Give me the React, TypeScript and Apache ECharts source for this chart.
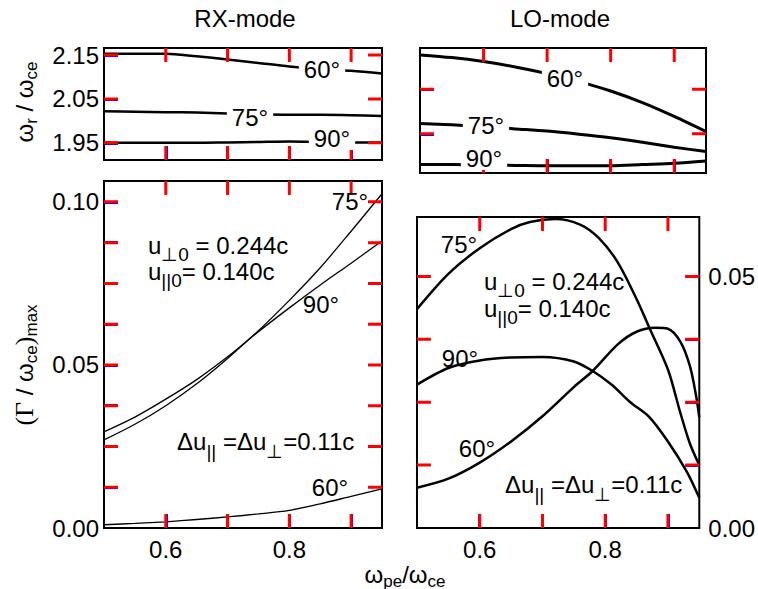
import { useEffect, useRef } from "react";
import * as echarts from "echarts";

const X_MIN = 0.5;
const X_MAX = 0.95;
const xTickValues = [0.6, 0.7, 0.8, 0.9];
const xLabelValues = [0.6, 0.8];

// RX-mode real frequency ωr/ωce
const rxFreqX = [0.5, 0.55, 0.6, 0.65, 0.7, 0.75, 0.8, 0.85, 0.9, 0.95];
const rxFreq60 = [2.153, 2.153, 2.153, 2.147, 2.14, 2.132, 2.124, 2.118, 2.114, 2.108];
const rxFreq75 = [2.022, 2.021, 2.02, 2.019, 2.017, 2.015, 2.014, 2.014, 2.013, 2.011];
const rxFreq90 = [1.951, 1.95, 1.95, 1.95, 1.951, 1.952, 1.953, 1.952, 1.951, 1.951];
const rxFreqTicks = [1.95, 2.05, 2.15];

// LO-mode real frequency (no scale printed)
const loFreqX = [0.5, 0.55, 0.6, 0.65, 0.7, 0.75, 0.8, 0.85, 0.9, 0.95];
const loFreq60 = [1.177, 1.171, 1.162, 1.15, 1.135, 1.117, 1.096, 1.07, 1.039, 1.005];
const loFreq75 = [1.023, 1.02, 1.016, 1.011, 1.006, 0.999, 0.991, 0.981, 0.97, 0.96];
const loFreq90 = [0.931, 0.931, 0.93, 0.929, 0.928, 0.928, 0.928, 0.931, 0.934, 0.939];
const loFreqTicks = [1.0, 1.1];

// RX-mode maximum growth rate
const rxGrowthX = [0.5, 0.55, 0.6, 0.65, 0.7, 0.75, 0.8, 0.85, 0.9, 0.95];
const rxGrowth75 = [0.027, 0.0318, 0.0375, 0.0442, 0.052, 0.0605, 0.0698, 0.0798, 0.091, 0.1025];
const rxGrowth90 = [0.0295, 0.034, 0.0395, 0.0455, 0.0525, 0.0602, 0.0675, 0.0745, 0.0812, 0.088];
const rxGrowth60 = [0.001, 0.0014, 0.0019, 0.0026, 0.0034, 0.0043, 0.0054, 0.0074, 0.0097, 0.012];
const rxGrowthTicks = [0.0125, 0.025, 0.0375, 0.05, 0.0625, 0.075, 0.0875, 0.1];
const rxGrowthLabels = [0, 0.05, 0.1];

// LO-mode maximum growth rate
const loGrowth75X = [0.5, 0.55, 0.6, 0.65, 0.68, 0.72, 0.76, 0.79, 0.82, 0.85, 0.87, 0.9, 0.92, 0.935, 0.95];
const loGrowth75 = [0.0435, 0.0505, 0.0556, 0.0594, 0.0608, 0.0614, 0.0603, 0.0576, 0.0528, 0.0455, 0.0399, 0.0315, 0.0228, 0.0168, 0.0125];
const loGrowth90X = [0.5, 0.55, 0.6, 0.65, 0.7, 0.75, 0.78, 0.81, 0.84, 0.87, 0.9, 0.93, 0.95];
const loGrowth90 = [0.0285, 0.0318, 0.0333, 0.0339, 0.034, 0.0331, 0.0312, 0.0285, 0.025, 0.0221, 0.0172, 0.0112, 0.006];
const loGrowth60X = [0.5, 0.55, 0.6, 0.65, 0.7, 0.75, 0.78, 0.82, 0.85, 0.88, 0.9, 0.92, 0.935, 0.945, 0.95];
const loGrowth60 = [0.008, 0.0098, 0.013, 0.0172, 0.0222, 0.028, 0.0312, 0.0365, 0.039, 0.0398, 0.0396, 0.037, 0.0322, 0.0262, 0.022];
const loGrowthTicks = [0.0125, 0.025, 0.0375, 0.05];
const loGrowthLabels = [0, 0.05];

const FONT = '"Liberation Sans", Arial, Helvetica, sans-serif';
const SERIF = '"Liberation Serif", "Times New Roman", serif';
const FS = 24;
const SUB = 17;
const TICK_LEN = 14;

const BOX = [
  { left: 104, top: 48, width: 278, height: 112 },
  { left: 420, top: 48, width: 286, height: 125 },
  { left: 104, top: 181, width: 278, height: 347 },
  { left: 417, top: 217, width: 284, height: 311 },
];

let measureCtx: CanvasRenderingContext2D | null = null;
function measure(text: string, size: number, family: string): number {
  if (!measureCtx) measureCtx = document.createElement("canvas").getContext("2d");
  if (!measureCtx) return text.length * size * 0.55;
  measureCtx.font = `${size}px ${family}`;
  return measureCtx.measureText(text).width;
}

type Part = { t: string; s?: number; dy?: number; f?: string };
function run(parts: Part[], x: number, y: number, opt: { center?: boolean; rotate?: boolean } = {}) {
  const widths = parts.map((p) => measure(p.t, p.s ?? FS, p.f ?? FONT));
  const total = widths.reduce((a, b) => a + b, 0);
  let cx = opt.center ? -total / 2 : 0;
  const children = parts.map((p, i) => {
    const el = {
      type: "text",
      x: cx,
      y: p.dy ?? 0,
      style: { text: p.t, fontSize: p.s ?? FS, fontFamily: p.f ?? FONT, fill: "#000", align: "left", verticalAlign: "middle" },
    };
    cx += widths[i];
    return el;
  });
  return { type: "group", x, y, rotation: opt.rotate ? Math.PI / 2 : 0, z: 100, children };
}

function deg(t: string, x: number, y: number, bg: boolean) {
  const style: any = { text: t, fontSize: FS, fontFamily: FONT, fill: "#000", align: "center", verticalAlign: "middle" };
  if (bg) {
    style.backgroundColor = "#fff";
    style.padding = [0, 5];
  }
  return { type: "text", x, y, z: 100, style };
}

const pts = (xs: number[], ys: number[]) => xs.map((x, i) => [x, ys[i]]);
const fmt = (d: number) => (v: any) => Number(v).toFixed(d);

function xAxis(grid: number, showLabels: boolean) {
  return {
    type: "value",
    gridIndex: grid,
    min: X_MIN,
    max: X_MAX,
    position: "bottom",
    axisLine: { show: false, onZero: false },
    splitLine: { show: false },
    axisTick: { show: true, inside: true, length: TICK_LEN, customValues: xTickValues, lineStyle: { color: "blue", width: 3 } },
    axisLabel: { show: showLabels, customValues: xLabelValues, formatter: fmt(1), fontSize: FS, fontFamily: FONT, color: "#000", margin: 9 },
  };
}

function yAxis(grid: number, min: number, max: number, ticks: number[], labels: number[] | null, side: "left" | "right", margin: number) {
  return {
    type: "value",
    gridIndex: grid,
    min,
    max,
    position: side,
    axisLine: { show: false, onZero: false },
    splitLine: { show: false },
    axisTick: { show: true, inside: true, length: TICK_LEN, customValues: ticks, lineStyle: { color: "blue", width: 3 } },
    axisLabel: { show: !!labels, customValues: labels ?? ticks, formatter: fmt(2), fontSize: FS, fontFamily: FONT, color: "#000", margin },
  };
}

function frameTicks(grid: number, yMin: number, yMax: number, yTicks: number[]) {
  const box = BOX[grid];
  const dy = (TICK_LEN * (yMax - yMin)) / box.height;
  const dx = (TICK_LEN * (X_MAX - X_MIN)) / box.width;
  const gap = ["-", "-"];
  const data: any[] = [];
  xTickValues.forEach((v) => {
    data.push([v, yMin], [v, yMin + dy], gap, [v, yMax], [v, yMax - dy], gap);
  });
  yTicks.forEach((v) => {
    data.push([X_MIN, v], [X_MIN + dx, v], gap, [X_MAX, v], [X_MAX - dx, v], gap);
  });
  return {
    type: "line",
    name: `ticks ${grid}`,
    xAxisIndex: grid,
    yAxisIndex: grid,
    data,
    showSymbol: false,
    smooth: false,
    connectNulls: false,
    clip: false,
    lineStyle: { color: "red", width: 3 },
  };
}

function line(name: string, grid: number, data: number[][], width: number) {
  return {
    type: "line",
    name,
    xAxisIndex: grid,
    yAxisIndex: grid,
    data,
    showSymbol: false,
    symbol: "none",
    smooth: 0.3,
    clip: true,
    lineStyle: { color: "#000", width },
  };
}

const gridStyle = { show: true, borderColor: "#000", borderWidth: 2, backgroundColor: "transparent", containLabel: false };

export default function App() {
  const ref = useRef<HTMLDivElement>(null);
  useEffect(() => {
    if (!ref.current) return;
    const chart = echarts.init(ref.current, null, { renderer: "svg" });
    const option: any = {
      animation: false,
      backgroundColor: "#fff",
      grid: BOX.map((b) => ({ ...gridStyle, ...b })),
      xAxis: [xAxis(0, false), xAxis(1, false), xAxis(2, true), xAxis(3, true)],
      yAxis: [
        yAxis(0, 1.911, 2.166, rxFreqTicks, rxFreqTicks, "left", 5),
        yAxis(1, 0.912, 1.1925, loFreqTicks, null, "left", 5),
        yAxis(2, 0, 0.1064, rxGrowthTicks, rxGrowthLabels, "left", 5),
        yAxis(3, 0, 0.0618, loGrowthTicks, loGrowthLabels, "right", 9),
      ],
      series: [
        line("RX 60", 0, pts(rxFreqX, rxFreq60), 2.5),
        line("RX 75", 0, pts(rxFreqX, rxFreq75), 2.5),
        line("RX 90", 0, pts(rxFreqX, rxFreq90), 2.5),
        line("LO 60", 1, pts(loFreqX, loFreq60), 3),
        line("LO 75", 1, pts(loFreqX, loFreq75), 3),
        line("LO 90", 1, pts(loFreqX, loFreq90), 3),
        line("RX g75", 2, pts(rxGrowthX, rxGrowth75), 1.3),
        line("RX g90", 2, pts(rxGrowthX, rxGrowth90), 1.3),
        line("RX g60", 2, pts(rxGrowthX, rxGrowth60), 1.3),
        line("LO g75", 3, pts(loGrowth75X, loGrowth75), 2.5),
        line("LO g90", 3, pts(loGrowth90X, loGrowth90), 2.5),
        line("LO g60", 3, pts(loGrowth60X, loGrowth60), 2.5),
        frameTicks(0, 1.911, 2.166, rxFreqTicks),
        frameTicks(1, 0.912, 1.1925, loFreqTicks),
        frameTicks(2, 0, 0.1064, rxGrowthTicks),
        frameTicks(3, 0, 0.0618, loGrowthTicks),
      ],
      graphic: [
        run([{ t: "RX-mode" }], 245, 18, { center: true }),
        run([{ t: "LO-mode" }], 560, 18, { center: true }),
        run([{ t: "ω" }, { t: "r", s: SUB, dy: 7 }, { t: " / " }, { t: "ω" }, { t: "ce", s: SUB, dy: 7 }], 24, 102, { center: true, rotate: true }),
        run(
          [
            { t: "(", f: SERIF, s: 26 },
            { t: "Γ", f: SERIF, s: 26 },
            { t: " / " },
            { t: "ω" },
            { t: "ce", s: SUB, dy: 7 },
            { t: ")", f: SERIF, s: 26 },
            { t: "max", s: SUB, dy: 7 },
          ],
          24,
          365,
          { center: true, rotate: true }
        ),
        run([{ t: "ω" }, { t: "pe", s: SUB, dy: 7 }, { t: "/" }, { t: "ω" }, { t: "ce", s: SUB, dy: 7 }], 405, 574, { center: true }),
        deg("60°", 322, 69, true),
        deg("75°", 250, 117, true),
        deg("90°", 332, 138, true),
        deg("60°", 565, 78, true),
        deg("75°", 486, 125, true),
        deg("90°", 484, 158, true),
        deg("75°", 350, 201, false),
        deg("90°", 321, 304, false),
        deg("60°", 330, 487, false),
        deg("75°", 459, 244, false),
        deg("90°", 460, 358, false),
        deg("60°", 477, 448, false),
        run([{ t: "u" }, { t: "⊥0", s: SUB + 2, dy: 9 }, { t: " = 0.244c" }], 148, 245),
        run([{ t: "u" }, { t: "||0", s: SUB + 2, dy: 9 }, { t: "= 0.140c" }], 148, 271),
        run([{ t: "Δu" }, { t: "||", s: SUB + 2, dy: 10 }, { t: " =Δu" }, { t: "⊥", s: SUB + 2, dy: 10 }, { t: "=0.11c" }], 177, 441),
        run([{ t: "u" }, { t: "⊥0", s: SUB + 2, dy: 9 }, { t: " = 0.244c" }], 484, 281),
        run([{ t: "u" }, { t: "||0", s: SUB + 2, dy: 9 }, { t: "= 0.140c" }], 484, 308),
        run([{ t: "Δu" }, { t: "||", s: SUB + 2, dy: 10 }, { t: " =Δu" }, { t: "⊥", s: SUB + 2, dy: 10 }, { t: "=0.11c" }], 505, 484),
      ],
    };
    chart.setOption(option);
    return () => chart.dispose();
  }, []);
  return <div ref={ref} style={{ position: "fixed", left: 0, top: 0, width: 758, height: 589, background: "#fff" }} />;
}
